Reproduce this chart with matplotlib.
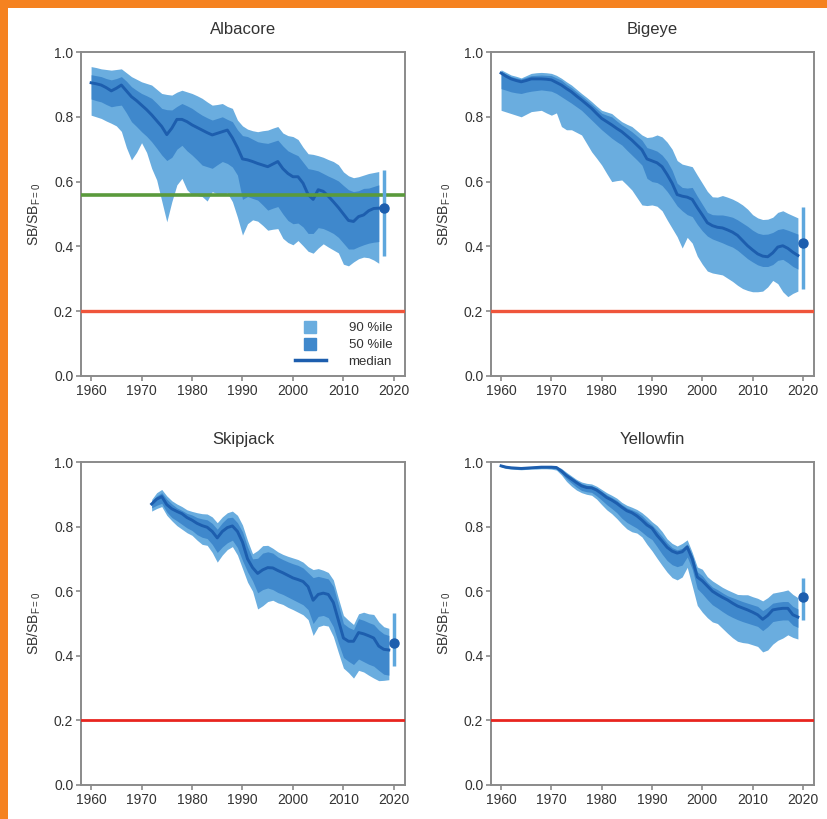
import matplotlib
matplotlib.use("Agg")
import matplotlib.pyplot as plt
from matplotlib.patches import Rectangle
from matplotlib.lines import Line2D
import numpy as np

plt.rcParams['font.family'] = ['Liberation Sans', 'DejaVu Sans']
plt.rcParams['mathtext.default'] = 'regular'

# ---------------- data ----------------
alb_years = list(range(1960, 2018))
alb_hi90 = [0.955, 0.952, 0.948, 0.946, 0.944, 0.946, 0.948, 0.936, 0.924, 0.916,
            0.908, 0.903, 0.898, 0.885, 0.872, 0.869, 0.867, 0.876, 0.882, 0.877,
            0.872, 0.865, 0.857, 0.846, 0.836, 0.838, 0.841, 0.832, 0.826, 0.790,
            0.772, 0.762, 0.757, 0.754, 0.757, 0.759, 0.765, 0.770, 0.750, 0.742,
            0.739, 0.730, 0.706, 0.686, 0.684, 0.680, 0.675, 0.668, 0.662, 0.652,
            0.630, 0.618, 0.612, 0.615, 0.620, 0.625, 0.628, 0.631]
alb_hi50 = [0.930, 0.927, 0.924, 0.918, 0.914, 0.918, 0.924, 0.910, 0.893, 0.882,
            0.872, 0.865, 0.857, 0.842, 0.826, 0.822, 0.821, 0.832, 0.841, 0.834,
            0.826, 0.815, 0.805, 0.797, 0.790, 0.795, 0.800, 0.792, 0.785, 0.760,
            0.742, 0.739, 0.731, 0.723, 0.720, 0.718, 0.723, 0.728, 0.710, 0.695,
            0.687, 0.680, 0.660, 0.640, 0.637, 0.633, 0.625, 0.617, 0.610, 0.602,
            0.588, 0.575, 0.569, 0.572, 0.579, 0.580, 0.585, 0.590]
alb_med = [0.905, 0.902, 0.898, 0.890, 0.880, 0.888, 0.898, 0.880, 0.862, 0.850,
           0.836, 0.822, 0.806, 0.788, 0.770, 0.745, 0.765, 0.792, 0.792, 0.785,
           0.775, 0.767, 0.759, 0.751, 0.744, 0.749, 0.754, 0.759, 0.735, 0.705,
           0.670, 0.667, 0.662, 0.656, 0.651, 0.646, 0.654, 0.662, 0.640, 0.625,
           0.615, 0.615, 0.595, 0.560, 0.545, 0.575, 0.570, 0.555, 0.538, 0.520,
           0.500, 0.480, 0.477, 0.492, 0.497, 0.510, 0.517, 0.518]
alb_lo50 = [0.855, 0.850, 0.846, 0.838, 0.831, 0.834, 0.836, 0.812, 0.785, 0.770,
            0.754, 0.740, 0.723, 0.703, 0.682, 0.665, 0.675, 0.700, 0.712, 0.695,
            0.682, 0.667, 0.651, 0.646, 0.641, 0.652, 0.662, 0.656, 0.645, 0.620,
            0.545, 0.554, 0.548, 0.543, 0.528, 0.512, 0.518, 0.523, 0.500, 0.480,
            0.470, 0.472, 0.460, 0.440, 0.440, 0.458, 0.455, 0.448, 0.440, 0.428,
            0.410, 0.392, 0.392, 0.399, 0.405, 0.410, 0.413, 0.415]
alb_lo90 = [0.805, 0.800, 0.795, 0.787, 0.780, 0.772, 0.755, 0.705, 0.667, 0.690,
            0.720, 0.690, 0.641, 0.605, 0.540, 0.476, 0.538, 0.590, 0.610, 0.575,
            0.559, 0.557, 0.554, 0.540, 0.569, 0.562, 0.559, 0.565, 0.538, 0.490,
            0.435, 0.470, 0.482, 0.478, 0.465, 0.450, 0.453, 0.455, 0.425, 0.412,
            0.405, 0.418, 0.402, 0.385, 0.379, 0.395, 0.408, 0.398, 0.389, 0.380,
            0.345, 0.340, 0.352, 0.362, 0.367, 0.365, 0.358, 0.348]
alb_pt = (2018, 0.52, 0.37, 0.636)

big_years = list(range(1960, 2020))
big_hi90 = [0.945, 0.937, 0.929, 0.925, 0.920, 0.927, 0.934, 0.936, 0.937, 0.936,
            0.934, 0.928, 0.919, 0.908, 0.898, 0.885, 0.872, 0.860, 0.847, 0.833,
            0.820, 0.815, 0.810, 0.797, 0.785, 0.777, 0.770, 0.757, 0.744, 0.736,
            0.738, 0.744, 0.738, 0.722, 0.700, 0.665, 0.654, 0.650, 0.646, 0.620,
            0.595, 0.570, 0.553, 0.552, 0.557, 0.552, 0.546, 0.538, 0.528, 0.515,
            0.498, 0.488, 0.483, 0.484, 0.490, 0.505, 0.510, 0.502, 0.495, 0.488]
big_hi50 = [0.940, 0.932, 0.924, 0.920, 0.917, 0.922, 0.927, 0.928, 0.929, 0.928,
            0.927, 0.920, 0.913, 0.900, 0.890, 0.877, 0.865, 0.852, 0.839, 0.825,
            0.811, 0.805, 0.800, 0.787, 0.775, 0.765, 0.754, 0.741, 0.728, 0.705,
            0.700, 0.694, 0.682, 0.663, 0.635, 0.595, 0.582, 0.580, 0.582, 0.555,
            0.530, 0.505, 0.498, 0.497, 0.497, 0.494, 0.490, 0.482, 0.472, 0.462,
            0.450, 0.441, 0.437, 0.438, 0.443, 0.452, 0.455, 0.450, 0.444, 0.438]
big_med = [0.935, 0.925, 0.917, 0.912, 0.908, 0.912, 0.917, 0.917, 0.917, 0.916,
           0.914, 0.906, 0.898, 0.887, 0.877, 0.864, 0.852, 0.839, 0.826, 0.810,
           0.795, 0.785, 0.775, 0.764, 0.754, 0.741, 0.728, 0.713, 0.698, 0.670,
           0.664, 0.658, 0.646, 0.622, 0.595, 0.560, 0.555, 0.552, 0.545, 0.520,
           0.497, 0.473, 0.464, 0.459, 0.457, 0.451, 0.444, 0.434, 0.418, 0.402,
           0.389, 0.377, 0.370, 0.368, 0.380, 0.398, 0.402, 0.394, 0.382, 0.372]
big_lo50 = [0.887, 0.882, 0.877, 0.874, 0.872, 0.876, 0.879, 0.881, 0.883, 0.881,
            0.879, 0.872, 0.862, 0.852, 0.842, 0.831, 0.820, 0.805, 0.790, 0.775,
            0.760, 0.747, 0.734, 0.723, 0.713, 0.697, 0.682, 0.667, 0.651, 0.610,
            0.600, 0.597, 0.588, 0.570, 0.548, 0.525, 0.510, 0.498, 0.492, 0.468,
            0.448, 0.432, 0.423, 0.417, 0.411, 0.404, 0.398, 0.388, 0.375, 0.362,
            0.352, 0.343, 0.338, 0.338, 0.344, 0.357, 0.360, 0.350, 0.338, 0.330]
big_lo90 = [0.820, 0.815, 0.810, 0.805, 0.800, 0.808, 0.816, 0.818, 0.820, 0.812,
            0.805, 0.812, 0.770, 0.760, 0.760, 0.752, 0.744, 0.718, 0.692, 0.672,
            0.651, 0.625, 0.600, 0.603, 0.605, 0.590, 0.574, 0.551, 0.528, 0.526,
            0.528, 0.524, 0.510, 0.482, 0.456, 0.430, 0.395, 0.428, 0.410, 0.370,
            0.345, 0.324, 0.318, 0.315, 0.312, 0.302, 0.292, 0.280, 0.270, 0.264,
            0.260, 0.260, 0.262, 0.275, 0.295, 0.285, 0.260, 0.245, 0.255, 0.262]
big_pt = (2020, 0.41, 0.27, 0.523)

skj_years = list(range(1972, 2020))
skj_hi90 = [0.884, 0.905, 0.915, 0.895, 0.880, 0.870, 0.862, 0.852, 0.847, 0.843,
            0.840, 0.839, 0.830, 0.812, 0.830, 0.843, 0.848, 0.835, 0.805, 0.757,
            0.716, 0.726, 0.741, 0.742, 0.733, 0.722, 0.714, 0.708, 0.703, 0.698,
            0.690, 0.676, 0.667, 0.670, 0.665, 0.658, 0.635, 0.578, 0.525, 0.510,
            0.497, 0.530, 0.535, 0.530, 0.528, 0.505, 0.490, 0.485]
skj_hi50 = [0.879, 0.895, 0.905, 0.885, 0.870, 0.858, 0.850, 0.841, 0.836, 0.828,
            0.824, 0.821, 0.810, 0.792, 0.812, 0.827, 0.829, 0.812, 0.784, 0.737,
            0.700, 0.702, 0.718, 0.722, 0.718, 0.706, 0.698, 0.691, 0.685, 0.680,
            0.672, 0.657, 0.642, 0.646, 0.642, 0.638, 0.615, 0.558, 0.500, 0.488,
            0.481, 0.515, 0.510, 0.503, 0.497, 0.480, 0.468, 0.463]
skj_med = [0.870, 0.885, 0.893, 0.868, 0.855, 0.847, 0.840, 0.828, 0.820, 0.810,
           0.803, 0.798, 0.785, 0.765, 0.785, 0.797, 0.802, 0.785, 0.752, 0.700,
           0.673, 0.655, 0.666, 0.673, 0.672, 0.664, 0.657, 0.649, 0.641, 0.636,
           0.630, 0.614, 0.572, 0.590, 0.594, 0.590, 0.565, 0.510, 0.455, 0.445,
           0.445, 0.472, 0.468, 0.462, 0.455, 0.430, 0.420, 0.418]
skj_lo50 = [0.858, 0.866, 0.872, 0.845, 0.828, 0.818, 0.807, 0.796, 0.788, 0.775,
            0.767, 0.763, 0.745, 0.720, 0.737, 0.750, 0.758, 0.735, 0.695, 0.660,
            0.632, 0.595, 0.605, 0.610, 0.605, 0.596, 0.590, 0.582, 0.574, 0.566,
            0.558, 0.543, 0.500, 0.522, 0.525, 0.518, 0.490, 0.440, 0.395, 0.383,
            0.373, 0.390, 0.382, 0.374, 0.368, 0.355, 0.343, 0.340]
skj_lo90 = [0.848, 0.856, 0.862, 0.835, 0.818, 0.803, 0.792, 0.781, 0.773, 0.758,
            0.745, 0.742, 0.720, 0.690, 0.712, 0.729, 0.738, 0.712, 0.670, 0.628,
            0.600, 0.545, 0.555, 0.568, 0.572, 0.564, 0.559, 0.550, 0.543, 0.535,
            0.527, 0.512, 0.463, 0.490, 0.495, 0.492, 0.460, 0.410, 0.362, 0.348,
            0.331, 0.355, 0.350, 0.340, 0.331, 0.323, 0.324, 0.326]
skj_pt = (2020, 0.44, 0.368, 0.533)

yft_years = list(range(1960, 2020))
yft_hi90 = [0.992, 0.988, 0.986, 0.985, 0.984, 0.985, 0.986, 0.987, 0.988, 0.988,
            0.988, 0.987, 0.980, 0.968, 0.957, 0.946, 0.938, 0.934, 0.932, 0.925,
            0.915, 0.905, 0.897, 0.888, 0.875, 0.866, 0.860, 0.853, 0.843, 0.830,
            0.815, 0.803, 0.785, 0.762, 0.748, 0.740, 0.748, 0.759, 0.720, 0.675,
            0.668, 0.645, 0.632, 0.622, 0.612, 0.604, 0.597, 0.590, 0.589, 0.589,
            0.583, 0.578, 0.570, 0.580, 0.594, 0.597, 0.600, 0.604, 0.590, 0.580]
yft_hi50 = [0.990, 0.986, 0.984, 0.983, 0.982, 0.983, 0.984, 0.985, 0.986, 0.986,
            0.986, 0.985, 0.977, 0.964, 0.953, 0.942, 0.933, 0.928, 0.926, 0.920,
            0.909, 0.898, 0.890, 0.881, 0.868, 0.858, 0.852, 0.845, 0.834, 0.818,
            0.805, 0.788, 0.770, 0.750, 0.735, 0.728, 0.733, 0.746, 0.710, 0.660,
            0.648, 0.628, 0.613, 0.605, 0.595, 0.586, 0.580, 0.574, 0.568, 0.563,
            0.558, 0.553, 0.540, 0.550, 0.563, 0.566, 0.568, 0.568, 0.553, 0.545]
yft_med = [0.988, 0.984, 0.982, 0.981, 0.980, 0.981, 0.982, 0.983, 0.984, 0.984,
           0.984, 0.983, 0.972, 0.958, 0.947, 0.936, 0.926, 0.921, 0.920, 0.913,
           0.902, 0.890, 0.882, 0.872, 0.860, 0.849, 0.843, 0.833, 0.820, 0.805,
           0.795, 0.773, 0.755, 0.736, 0.724, 0.718, 0.722, 0.737, 0.700, 0.644,
           0.632, 0.616, 0.600, 0.590, 0.581, 0.573, 0.563, 0.554, 0.548, 0.542,
           0.535, 0.527, 0.513, 0.525, 0.542, 0.545, 0.547, 0.547, 0.527, 0.520]
yft_lo50 = [0.986, 0.982, 0.980, 0.979, 0.978, 0.979, 0.980, 0.981, 0.982, 0.982,
            0.981, 0.979, 0.965, 0.948, 0.935, 0.922, 0.912, 0.908, 0.906, 0.895,
            0.882, 0.868, 0.856, 0.843, 0.826, 0.813, 0.804, 0.795, 0.783, 0.770,
            0.760, 0.738, 0.715, 0.695, 0.682, 0.676, 0.681, 0.706, 0.668, 0.608,
            0.592, 0.574, 0.558, 0.548, 0.537, 0.527, 0.519, 0.512, 0.506, 0.501,
            0.496, 0.491, 0.478, 0.490, 0.506, 0.509, 0.511, 0.511, 0.495, 0.488]
yft_lo90 = [0.984, 0.980, 0.978, 0.977, 0.976, 0.977, 0.978, 0.978, 0.979, 0.979,
            0.978, 0.975, 0.960, 0.940, 0.925, 0.913, 0.905, 0.900, 0.897, 0.885,
            0.868, 0.852, 0.840, 0.825, 0.808, 0.793, 0.784, 0.780, 0.768, 0.745,
            0.725, 0.702, 0.680, 0.659, 0.642, 0.635, 0.644, 0.674, 0.616, 0.556,
            0.535, 0.518, 0.505, 0.500, 0.485, 0.470, 0.456, 0.445, 0.441, 0.439,
            0.434, 0.429, 0.412, 0.418, 0.436, 0.448, 0.455, 0.465, 0.457, 0.452]
yft_pt = (2020, 0.582, 0.511, 0.641)

titles = ["Albacore", "Bigeye", "Skipjack", "Yellowfin"]
legend_labels = ["90 %ile", "50 %ile", "median"]
target_ref = 0.56
limit_ref = 0.2

# ---------------- styles ----------------
C90 = "#6aaddf"
C50 = "#3f88cc"
CMED = "#1d5eae"
CBAR = "#5ea7dd"
RED_TOP = "#ef553b"
RED_BOT = "#e8251f"
GREEN = "#5a9a3c"
SPINE = "#8a8a8a"
TXT = "#333333"
ORANGE = "#f58220"

W, H = 828, 819
fig = plt.figure(figsize=(W / 100, H / 100), dpi=100)
fig.patch.set_facecolor("white")

def frac_rect(x0, y0, x1, y1):
    return [x0 / W, 1 - y1 / H, (x1 - x0) / W, (y1 - y0) / H]

rects = [frac_rect(81, 52, 405, 376), frac_rect(491, 52, 814, 376),
         frac_rect(81, 462, 405, 785), frac_rect(491, 462, 814, 785)]

series = [
    (alb_years, alb_hi90, alb_hi50, alb_med, alb_lo50, alb_lo90, alb_pt),
    (big_years, big_hi90, big_hi50, big_med, big_lo50, big_lo90, big_pt),
    (skj_years, skj_hi90, skj_hi50, skj_med, skj_lo50, skj_lo90, skj_pt),
    (yft_years, yft_hi90, yft_hi50, yft_med, yft_lo50, yft_lo90, yft_pt),
]

for i, (rect, title, s) in enumerate(zip(rects, titles, series)):
    yrs, h90, h50, med, l50, l90, pt = s
    ax = fig.add_axes(rect)
    ax.fill_between(yrs, l90, h90, color=C90, lw=0, zorder=2)
    ax.fill_between(yrs, l50, h50, color=C50, lw=0, zorder=3)
    ax.plot(yrs, med, color=CMED, lw=2.1, zorder=4)
    red = RED_TOP if i < 2 else RED_BOT
    ax.axhline(limit_ref, color=red, lw=2.4 if i < 2 else 2.0, zorder=5)
    if i == 0:
        ax.axhline(target_ref, color=GREEN, lw=2.6, zorder=5)
    px, pm, plo, phi = pt
    ax.plot([px, px], [plo, phi], color=CBAR, lw=2.5, zorder=6, solid_capstyle='butt')
    ax.plot([px], [pm], 'o', color=CMED, ms=6.5, zorder=7)

    ax.set_xlim(1958.0, 2022.2)
    ax.set_ylim(0, 1.0)
    ax.set_xticks([1960, 1970, 1980, 1990, 2000, 2010, 2020])
    ax.set_yticks([0.0, 0.2, 0.4, 0.6, 0.8, 1.0])
    ax.set_yticklabels([f"{v:.1f}" for v in ax.get_yticks()])
    ax.tick_params(axis='both', labelsize=10, colors=SPINE, labelcolor=TXT,
                   length=3.5, width=1.2, direction='out', pad=2)
    for sp in ax.spines.values():
        sp.set_color(SPINE)
        sp.set_linewidth(1.4)
    ax.set_title(title, fontsize=12, color=TXT, pad=13)
    ax.set_ylabel(r"SB/SB$_{F{=}0}$", fontsize=10, color=TXT, labelpad=8)

    if i == 0:
        handles = [
            Line2D([], [], ls='none', marker='s', ms=8, color=C90),
            Line2D([], [], ls='none', marker='s', ms=8, color=C50),
            Line2D([], [], color=CMED, lw=2.5),
        ]
        leg = ax.legend(handles, legend_labels, loc='lower right', frameon=False,
                        fontsize=9.5, handlelength=2.4, handletextpad=1.7,
                        labelspacing=0.35, borderaxespad=0.2,
                        bbox_to_anchor=(0.985, 0.0))
        for t in leg.get_texts():
            t.set_color(TXT)

# orange border
fig.add_artist(Rectangle((0, 1 - 8 / H), 1, 8 / H, transform=fig.transFigure,
                         color=ORANGE, lw=0, zorder=10))
fig.add_artist(Rectangle((0, 0), 8 / W, 1, transform=fig.transFigure,
                         color=ORANGE, lw=0, zorder=10))

fig.savefig("out.png", dpi=100)
